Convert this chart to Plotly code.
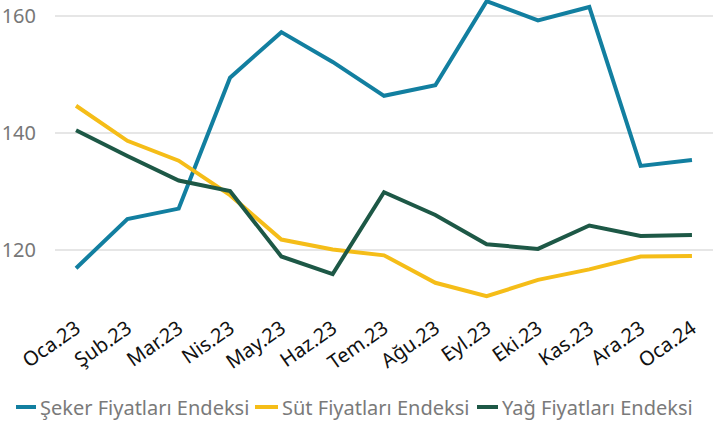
import plotly.graph_objects as go

months = ["Oca.23", "Şub.23", "Mar.23", "Nis.23", "May.23", "Haz.23", "Tem.23",
          "Ağu.23", "Eyl.23", "Eki.23", "Kas.23", "Ara.23", "Oca.24"]

seker = [116.9, 125.3, 127.1, 149.5, 157.3, 152.2, 146.4, 148.2, 162.6, 159.3, 161.6, 134.4, 135.4]
sut = [144.7, 138.7, 135.3, 129.4, 121.8, 120.1, 119.1, 114.4, 112.1, 114.9, 116.7, 118.9, 119.0]
yag = [140.5, 136.1, 131.9, 130.1, 118.9, 115.9, 129.9, 126.0, 121.0, 120.2, 124.2, 122.4, 122.6]

names = ["Şeker Fiyatları Endeksi", "Süt Fiyatları Endeksi", "Yağ Fiyatları Endeksi"]
colors = ["#127fa0", "#f5bd18", "#1d5846"]

FONT = "Noto Sans"
W, H = 723, 422
ML, MR, MT, MB = 55, 10, 0, 117
PW, PH = W - ML - MR, H - MT - MB


def px_x(px):
    return (px - ML) / PW


def px_y(py):
    return (H - MB - py) / PH


fig = go.Figure()
for name, vals, color in zip(names, [seker, sut, yag], colors):
    fig.add_trace(go.Scatter(
        x=months, y=vals, name=name, mode="lines",
        line=dict(color=color, width=4), showlegend=False,
    ))

# legend row drawn by hand: short swatch followed by the label
legend_x = [(16, 36, 38), (255, 278, 280), (477, 498, 500)]
legend_y = 407
for (s0, s1, tx), name, color in zip(legend_x, names, colors):
    fig.add_shape(type="line", xref="paper", yref="paper",
                  x0=px_x(s0), x1=px_x(s1), y0=px_y(legend_y), y1=px_y(legend_y),
                  line=dict(color=color, width=4))
    fig.add_annotation(xref="paper", yref="paper", x=px_x(tx), y=px_y(legend_y),
                       xanchor="left", yanchor="middle", showarrow=False,
                       text=name, font=dict(size=20, color="#7a7a7a", family=FONT))

fig.update_layout(
    width=W, height=H,
    margin=dict(l=ML, r=MR, t=MT, b=MB),
    paper_bgcolor="white", plot_bgcolor="white",
    font=dict(family=FONT),
    showlegend=False,
    xaxis=dict(
        type="category", range=[-0.41, 12.41], automargin=False,
        showgrid=False, zeroline=False, showline=False, ticks="",
        tickangle=-35, tickfont=dict(size=20, color="#111111", family=FONT),
        ticklabelstandoff=7,
    ),
    yaxis=dict(
        range=[110.6, 162.8], tickvals=[120, 140, 160], automargin=False,
        showgrid=True, gridcolor="#e6e6e6", gridwidth=1.5,
        zeroline=False, showline=False, ticks="",
        tickfont=dict(size=20, color="#777777", family=FONT),
        ticklabelstandoff=18,
    ),
)

fig.write_html("out.html")
